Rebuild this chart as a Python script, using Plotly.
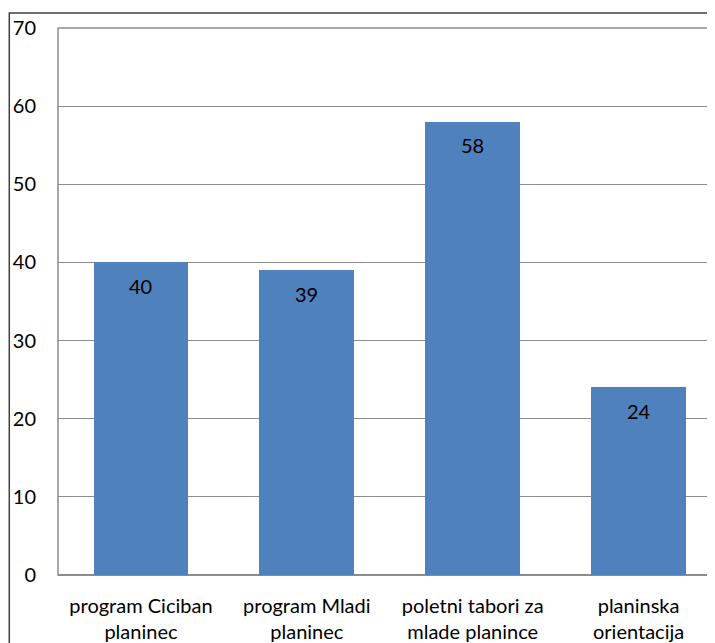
import plotly.graph_objects as go

categories = ["program Ciciban<br>planinec", "program Mladi<br>planinec",
              "poletni tabori za<br>mlade planince", "planinska<br>orientacija"]
values = [40, 39, 58, 24]
y_ticks = [0, 10, 20, 30, 40, 50, 60, 70]

FONT = "Lato"
FS = 20
# page has an 8px body margin; figure drawn at offset (8, 8)
W, H = 707, 635
ML, MR, MT, MB = 49.5, 0, 20, 65
pw = W - ML - MR
ph = H - MT - MB
cat_w = 166.0
x_hi = -0.5 + pw / cat_w

fig = go.Figure()
fig.add_trace(go.Bar(
    x=list(range(len(categories))), y=values,
    marker=dict(color="#4F81BD", line=dict(width=0)),
    width=0.572,
    hoverinfo="skip",
))

for i, v in enumerate(values):
    fig.add_annotation(x=i, y=v, text=str(v), showarrow=False,
                       yshift=-23.5, font=dict(family=FONT, size=FS, color="#000000"))

# outer chart border
fig.add_shape(type="rect", xref="paper", yref="paper",
              x0=(0.75 - ML) / pw, x1=1.2, y0=-0.3, y1=1 + (MT - 5) / ph,
              line=dict(color="#404040", width=1.5), layer="below")
# plot area border (left/top)
fig.add_shape(type="rect", xref="paper", yref="paper",
              x0=0, x1=1.2, y0=0, y1=1,
              line=dict(color="#8C8C8C", width=1.5), layer="below")

fig.update_layout(
    width=W, height=H,
    margin=dict(l=ML, r=MR, t=MT, b=MB, pad=0),
    paper_bgcolor="white", plot_bgcolor="white",
    showlegend=False,
    bargap=0,
    font=dict(family=FONT, size=FS, color="#000000"),
    xaxis=dict(
        range=[-0.5, x_hi],
        tickmode="array", tickvals=list(range(len(categories))), ticktext=categories,
        showgrid=False, zeroline=False, showline=False, ticks="",
        tickfont=dict(family=FONT, size=FS),
        ticklabelstandoff=17,
    ),
    yaxis=dict(
        range=[0, 70], tickmode="array", tickvals=y_ticks,
        showgrid=True, gridcolor="#8C8C8C", gridwidth=1,
        zeroline=True, zerolinecolor="#8C8C8C", zerolinewidth=1.5,
        showline=False, ticks="",
        tickfont=dict(family=FONT, size=FS),
        ticklabelstandoff=21,
    ),
)

fig.write_html("out.html")
